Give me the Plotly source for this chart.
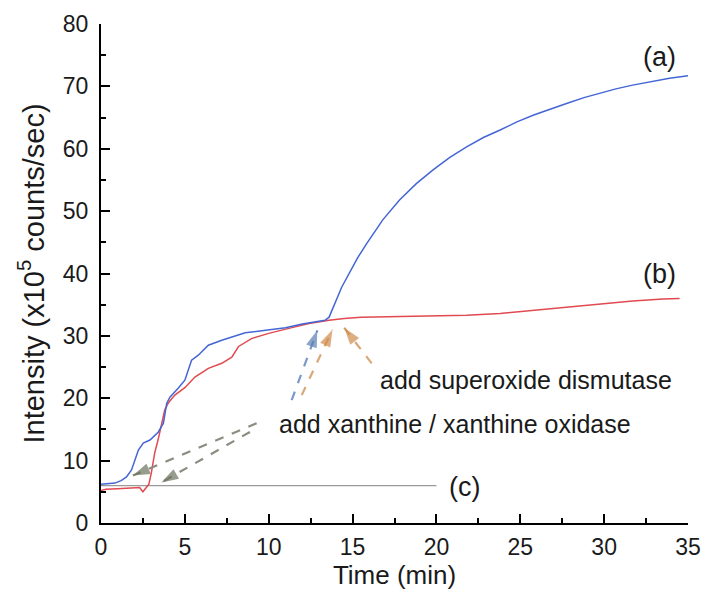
import plotly.graph_objects as go

# ---- data ----
time_a = [0, 0.5, 0.83, 1.2, 1.52, 1.82, 2.23, 2.52, 2.92, 3.42, 3.72, 3.92, 4.12, 4.6, 5.0, 5.4,
          5.8, 6.4, 7.2, 8.6, 10.2, 11.0, 12.0, 12.8, 13.36, 13.6, 13.85, 14.1, 14.35, 14.85,
          15.3, 15.84, 16.8, 17.8, 18.8, 19.8, 20.8, 21.8, 22.8, 23.8, 24.8, 25.8, 26.8, 27.8,
          28.8, 29.75, 30.7, 31.7, 32.8, 33.9, 35.0]
int_a = [6.2, 6.3, 6.4, 6.8, 7.4, 8.5, 11.7, 12.8, 13.3, 14.6, 16.0, 19.2, 20.2, 21.6, 22.9, 26.1,
         26.9, 28.5, 29.3, 30.5, 31.0, 31.3, 31.9, 32.2, 32.5, 33.0, 34.5, 36.2, 37.8, 40.4,
         42.5, 44.8, 48.6, 51.8, 54.4, 56.6, 58.6, 60.3, 61.8, 63.0, 64.3, 65.4, 66.4, 67.3,
         68.2, 68.9, 69.6, 70.2, 70.8, 71.3, 71.7]

time_b = [0, 0.3, 1.0, 1.8, 2.3, 2.5, 2.7, 2.85, 3.0, 3.2, 3.4, 3.6, 3.8, 4.0, 4.4, 5.0, 5.6,
          6.4, 7.2, 7.8, 8.2, 9.0, 10.0, 11.2, 12.4, 13.6, 14.5, 15.5, 17.8, 19.8, 21.8, 23.8,
          25.8, 27.8, 29.75, 31.7, 33.5, 34.5]
int_b = [5.2, 5.4, 5.5, 5.6, 5.7, 5.0, 5.6, 6.2, 8.0, 11.2, 13.3, 16.0, 18.1, 19.2, 20.5, 21.7,
         23.4, 24.8, 25.6, 26.6, 28.3, 29.6, 30.4, 31.2, 32.0, 32.5, 32.8, 33.0, 33.1, 33.2,
         33.3, 33.6, 34.1, 34.7, 35.2, 35.6, 35.9, 36.0]

time_c = [0, 20]
int_c = [6.0, 6.0]

x_ticks = [0, 5, 10, 15, 20, 25, 30, 35]
y_ticks = [0, 10, 20, 30, 40, 50, 60, 70, 80]

# arrows: (tail_t, tail_v, head_t, head_v)
arrows_xo = [(9.28, 16.0, 1.9, 7.6), (8.88, 14.6, 3.6, 6.5)]
arrow_blue = (11.37, 19.7, 12.9, 30.9)
arrow_orange1 = (11.97, 20.5, 13.8, 31.0)
arrow_orange2 = (16.14, 25.6, 14.5, 31.3)

labels = [("(a)", 33.3, 74.7), ("(b)", 33.3, 40.0), ("(c)", 21.7, 5.8)]
text_xo = ("add xanthine / xanthine oxidase", 10.5, 15.9)
text_sod = ("add superoxide dismutase", 16.5, 22.9)

FONT = "Liberation Sans, Arial, sans-serif"

fig = go.Figure()

fig.add_trace(go.Scatter(x=time_c, y=int_c, mode="lines",
                         line=dict(color="#9a9a9a", width=1.2)))
fig.add_trace(go.Scatter(x=time_b, y=int_b, mode="lines",
                         line=dict(color="#e04a50", width=1.5)))
fig.add_trace(go.Scatter(x=time_a, y=int_a, mode="lines",
                         line=dict(color="#4466d4", width=1.5)))


def add_arrow(a, line_color, head_color):
    t0, v0, t1, v1 = a
    fig.add_trace(go.Scatter(x=[t0, t1], y=[v0, v1], mode="lines",
                             line=dict(color=line_color, width=2.2, dash="dash")))
    fig.add_trace(go.Scatter(x=[t0, t1], y=[v0, v1], mode="markers",
                             marker=dict(symbol="arrow", angleref="previous",
                                         size=[0, 18], color=head_color,
                                         line=dict(width=0))))


for a in arrows_xo:
    add_arrow(a, "#8c8d82", "#6c725e")
add_arrow(arrow_blue, "#7b98cc", "#5b7db0")
add_arrow(arrow_orange1, "#d9a878", "#cf8c4c")
add_arrow(arrow_orange2, "#d9a878", "#cf8c4c")

for txt, tx, ty in labels:
    fig.add_annotation(x=tx, y=ty, text=txt, showarrow=False,
                       font=dict(family=FONT, size=27, color="#1a1a1a"))
for txt, tx, ty in (text_xo, text_sod):
    fig.add_annotation(x=tx, y=ty, text=txt, showarrow=False, xanchor="left",
                       font=dict(family=FONT, size=25, color="#1a1a1a"))

axis_common = dict(showline=True, linecolor="black", linewidth=2, ticks="inside",
                   tickwidth=2, ticklen=9, tickcolor="black", showgrid=False,
                   zeroline=False, mirror=False,
                   tickfont=dict(family=FONT, size=23, color="#1a1a1a"))

fig.update_xaxes(range=[0, 35], tickvals=x_ticks, ticktext=[str(v) for v in x_ticks],
                 minor=dict(dtick=2.5, ticks="inside", ticklen=5, tickwidth=2,
                            tickcolor="black", showgrid=False),
                 title=dict(text="Time (min)", standoff=0,
                            font=dict(family=FONT, size=26, color="#1a1a1a")),
                 ticklabelstandoff=2, **axis_common)
fig.update_yaxes(range=[0, 80], tickvals=y_ticks, ticktext=[str(v) for v in y_ticks],
                 minor=dict(dtick=5, ticks="inside", ticklen=5, tickwidth=2,
                            tickcolor="black", showgrid=False),
                 title=dict(text="Intensity (x10<sup>5</sup> counts/sec)", standoff=10,
                            font=dict(family=FONT, size=29, color="#1a1a1a")),
                 ticklabelstandoff=6, **axis_common)

fig.update_layout(width=707, height=591, showlegend=False,
                  paper_bgcolor="white", plot_bgcolor="white",
                  margin=dict(l=101, r=19, t=24, b=68, autoexpand=False))

fig.write_html("out.html")
